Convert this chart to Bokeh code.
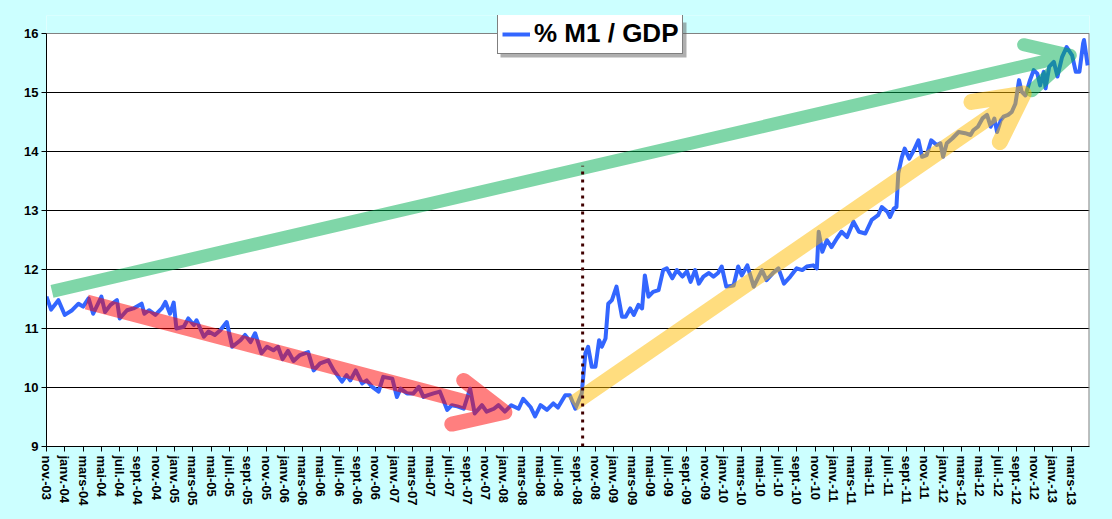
from bokeh.plotting import figure
from bokeh.models import Range1d, FixedTicker, Legend, LegendItem, BoxAnnotation, GlobalInlineStyleSheet
from bokeh.embed import file_html
from bokeh.resources import INLINE

# ---- data (x = months since nov. 2003) ----
m1_month = [0.0, 0.5, 1.3, 2.0, 2.8, 3.5, 4.0, 4.6, 5.1, 6.0, 6.4, 7.0, 7.7, 8.0, 8.8, 9.5,
            10.4, 10.7, 11.2, 11.9, 12.6, 13.0, 13.5, 13.9, 14.2, 15.0, 15.5, 16.1, 16.4,
            17.2, 17.7, 18.4, 19.0, 19.7, 20.3, 21.2, 21.7, 22.3, 22.8, 23.5, 24.1, 24.8,
            25.3, 25.8, 26.4, 27.0, 27.7, 28.6, 29.2, 29.9, 30.8, 31.4, 32.3, 32.8, 33.2,
            33.8, 34.5, 35.0, 35.6, 36.3, 36.8, 37.8, 38.3, 38.7, 39.4, 40.1, 40.7, 41.2,
            41.7, 42.3, 43.0, 43.8, 44.3, 44.9, 45.6, 46.3, 46.8, 47.6, 48.1, 48.9, 49.4,
            50.1, 50.8, 51.6, 52.1, 52.9, 53.4, 54.0, 54.7, 55.4, 55.9, 56.7,
            57.2, 57.8, 58.5, 58.9, 59.2, 59.6, 60.0, 60.4, 60.7, 61.1, 61.4, 61.8, 62.3,
            62.9, 63.3, 63.8, 64.2, 64.7, 65.1, 65.4, 65.8, 66.3, 66.9, 67.4, 67.8, 68.4,
            68.9, 69.5, 70.0, 70.4, 70.9, 71.3, 71.8, 72.4, 72.9, 73.4, 73.8, 74.3, 75.1,
            75.6, 76.0, 76.6, 77.3, 78.2, 78.7, 79.4, 80.0, 80.6, 81.3, 82.0, 82.6, 83.1,
            83.8, 84.2, 84.4, 84.8, 85.3, 85.8, 86.4, 86.9, 87.5, 88.2, 88.8, 89.5, 90.2,
            90.9, 91.3, 91.9, 92.2, 92.6, 92.9, 93.1, 93.5, 93.8, 94.3, 94.8, 95.3, 95.7,
            96.2, 96.7, 97.3, 97.7, 98.0, 98.4, 99.0, 99.7, 100.4, 101.0, 101.3, 101.8,
            102.3, 102.8, 103.2, 103.6, 103.9, 104.3, 104.6, 105.1, 105.5, 105.9, 106.3,
            106.6, 107.0, 107.5, 107.9, 108.3, 108.6, 109.0, 109.2, 109.6, 110.1, 110.5,
            111.0, 111.5, 112.1, 112.5, 112.9, 113.3, 113.4, 113.8]
m1_value = [11.54, 11.32, 11.48, 11.23, 11.31, 11.42, 11.37, 11.51, 11.25, 11.54, 11.28, 11.40,
            11.48, 11.17, 11.31, 11.34, 11.42, 11.25, 11.31, 11.23, 11.34, 11.45, 11.25, 11.44,
            11.00, 11.03, 11.17, 11.06, 11.14, 10.86, 10.95, 10.89, 10.97, 11.11, 10.69, 10.80,
            10.89, 10.77, 10.92, 10.58, 10.69, 10.63, 10.69, 10.48, 10.62, 10.45, 10.55, 10.60,
            10.29, 10.41, 10.46, 10.29, 10.10, 10.21, 10.12, 10.29, 10.07, 10.12, 10.01, 9.93,
            10.18, 10.15, 9.84, 9.98, 9.90, 9.90, 10.01, 9.84, 9.87, 9.90, 9.93, 9.62, 9.70,
            9.68, 9.64, 9.98, 9.56, 9.70, 9.59, 9.64, 9.70, 9.59, 9.70, 9.64, 9.81, 9.67, 9.51,
            9.70, 9.62, 9.73, 9.66, 9.87,
            9.87, 9.64, 9.90, 10.58, 10.69, 10.35, 10.35, 10.80, 10.69, 10.83, 11.42, 11.48,
            11.71, 11.20, 11.20, 11.34, 11.23, 11.40, 11.34, 11.90, 11.54, 11.62, 11.65, 11.99,
            12.02, 11.85, 11.99, 11.88, 11.97, 11.79, 11.99, 11.76, 11.88, 11.94, 11.88, 11.94,
            12.05, 11.71, 11.73, 12.05, 11.90, 12.07, 11.71, 11.99, 11.82, 11.94, 12.02, 11.76,
            11.88, 12.02, 11.99, 12.05, 12.07, 12.02, 12.64, 12.30, 12.50, 12.38, 12.53, 12.64,
            12.55, 12.81, 12.64, 12.61, 12.84, 12.92, 13.06, 12.98, 12.89, 13.03, 13.06, 13.63,
            13.91, 14.05, 13.88, 14.02, 14.19, 13.91, 13.94, 14.19, 14.11, 14.14, 13.91, 14.14,
            14.22, 14.33, 14.31, 14.28, 14.36, 14.42, 14.56, 14.62, 14.42, 14.56, 14.33, 14.53,
            14.59, 14.62, 14.67, 14.81, 15.21, 15.01, 14.95, 15.21, 15.38, 15.32, 15.12, 15.35,
            15.07, 15.44, 15.52, 15.27, 15.60, 15.77, 15.63, 15.35, 15.35, 15.83, 15.89, 15.46]

# trend arrows: tip -> barb 1 -> tip -> barb 2 -> tip -> tail
green_arrow_x = [111.9, 106.8, 111.9, 107.7, 111.9, 0.6]
green_arrow_y = [15.63, 15.81, 15.63, 15.03, 15.63, 11.63]
red_arrow_x = [50.1, 45.6, 50.1, 44.3, 50.1, 4.4]
red_arrow_y = [9.58, 10.12, 9.58, 9.38, 9.58, 11.45]
yellow_arrow_x = [106.8, 101.1, 106.8, 104.2, 106.8, 57.5]
yellow_arrow_y = [14.98, 14.84, 14.98, 14.16, 14.98, 9.72]

crisis_x = [58.6, 58.6]
crisis_y = [9.0, 13.76]

y_ticks = [9, 10, 11, 12, 13, 14, 15, 16]
tick_positions = list(range(0, 113, 2))
month_short = ["janv.", "févr.", "mars", "avr.", "mai", "juin",
               "juil.", "août", "sept.", "oct.", "nov.", "déc."]
tick_labels = [f"{month_short[(10 + t) % 12]}-{3 + (10 + t) // 12:02d}" for t in tick_positions]

FONT = "Liberation Sans"
BG = "#CCFFFF"
X_MAX = 114
Y_MIN, Y_MAX, Y_TOP = 9, 16, 16.305   # frame is extended above 16 to host the legend

p = figure(width=1112, height=519, output_backend="svg", toolbar_location=None,
           x_range=Range1d(0, X_MAX), y_range=Range1d(Y_MIN, Y_TOP),
           min_border_left=46, min_border_right=23, min_border_top=15, min_border_bottom=73)
p.stylesheets = [GlobalInlineStyleSheet(css="html, body { background-color: #CCFFFF; }")]
p.border_fill_color = BG
p.background_fill_color = "white"
p.outline_line_color = None

# cyan band above the real plot area + grey top / right borders
p.quad(left=[0], right=[X_MAX], bottom=[Y_MAX], top=[Y_TOP + 1], fill_color=BG, line_color=None)
p.line([0, X_MAX], [Y_MAX, Y_MAX], line_color="#808080", line_width=1)
p.line([X_MAX, X_MAX], [Y_MIN, Y_MAX], line_color="#808080", line_width=2)

p.xgrid.visible = False
p.ygrid.ticker = FixedTicker(ticks=[10, 11, 12, 13, 14, 15])
p.ygrid.grid_line_color = "black"
p.ygrid.grid_line_width = 1

p.xaxis.ticker = FixedTicker(ticks=tick_positions)
p.xaxis.major_label_overrides = dict(zip(tick_positions, tick_labels))
p.xaxis.major_label_orientation = "vertical"
p.yaxis.ticker = FixedTicker(ticks=y_ticks)
p.yaxis.bounds = (Y_MIN, Y_MAX)
for ax in (p.xaxis, p.yaxis):
    ax.axis_line_color = "black"
    ax.axis_line_width = 1
    ax.major_tick_line_color = "black"
    ax.major_tick_in = 0
    ax.major_tick_out = 5
    ax.minor_tick_line_color = None
    ax.major_label_text_font = FONT
    ax.major_label_text_font_style = "bold"
    ax.major_label_text_color = "black"
    ax.major_label_text_font_size = "13px"
p.xaxis.major_label_standoff = 4
p.yaxis.major_label_standoff = 3

r = p.line(m1_month, m1_value, line_color="#3366FF", line_width=4, line_join="round")

p.line(green_arrow_x, green_arrow_y, line_color="#00AD51", line_alpha=0.5, line_width=13,
       line_join="round", line_cap="butt")
p.line(red_arrow_x, red_arrow_y, line_color="#FF0000", line_alpha=0.5, line_width=15,
       line_join="round", line_cap="butt")
p.line(yellow_arrow_x, yellow_arrow_y, line_color="#FFBB00", line_alpha=0.5, line_width=16,
       line_join="round", line_cap="butt")

p.line(crisis_x, crisis_y, line_color="#400000", line_width=3, line_dash="3 5")

# drop shadow of the legend box (legend box: 451..637 px from frame left, 392..427 px from bottom)
PX_PER_MONTH = 1043 / X_MAX
PX_PER_UNIT = 431 / (Y_TOP - Y_MIN)
p.add_layout(BoxAnnotation(left=454 / PX_PER_MONTH, right=(454 + 186) / PX_PER_MONTH,
                           bottom=Y_MIN + 389 / PX_PER_UNIT, top=Y_MIN + (389 + 35) / PX_PER_UNIT,
                           fill_color="#606060", fill_alpha=0.5, line_color=None))

legend = Legend(items=[LegendItem(label="% M1 / GDP", renderers=[r])],
                location=(451, 392), orientation="horizontal",
                label_text_font=FONT, label_text_font_size="26px", label_text_font_style="bold",
                label_text_color="black", padding=4, margin=0, glyph_width=28,
                glyph_height=26, label_height=26, label_standoff=4, spacing=0,
                border_line_color="black", border_line_width=1,
                background_fill_color="white", background_fill_alpha=1)
p.add_layout(legend, "center")

open("out.html", "w").write(file_html(p, INLINE))
